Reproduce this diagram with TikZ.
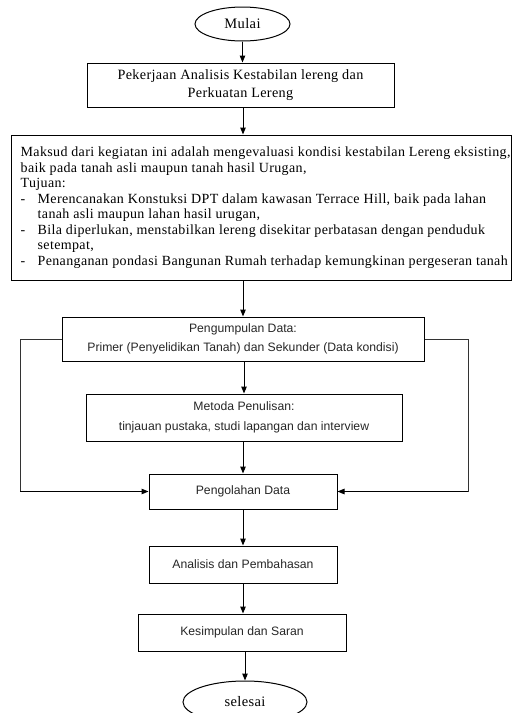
\documentclass[tikz,border=0pt]{standalone}
\usepackage{fontspec}
\setmainfont[LetterSpace=2.5]{Liberation Serif}
\newfontfamily\arialf{Liberation Sans}
\usetikzlibrary{arrows.meta,shapes.geometric}
\begin{document}
\begin{tikzpicture}[x=1pt,y=-1pt,
  every node/.style={inner sep=0pt},
  serifbox/.style={draw,line width=1pt,rectangle,font=\fontsize{14.2}{18}\selectfont,align=center},
  sansbox/.style={draw,line width=1pt,rectangle,font=\arialf\fontsize{12.2}{19.5}\selectfont,align=center,text=black!85},
  term/.style={draw,line width=1pt,ellipse,font=\fontsize{14.5}{16}\selectfont},
  arr/.style={line width=1pt,-{Triangle[length=7pt,width=5.5pt]}},
  lnk/.style={line width=1pt,black!80}]
\useasboundingbox (0,0) rectangle (512,713);
\coordinate (ax) at (243,0);
\node[term,minimum width=95,minimum height=34] (mulai) at (242.5,24) {Mulai};
\node[serifbox,minimum width=307,minimum height=44] (b1) at (240.5,85)
  {Pekerjaan Analisis Kestabilan lereng dan\\Perkuatan Lereng};
\node[draw,line width=1pt,minimum width=500,minimum height=145] (b2) at (261,207.5) {};
\node[anchor=west,align=left,font=\fontsize{14}{15.5}\selectfont] (t2) at ([xshift=10pt]b2.west)
  {Maksud dari kegiatan ini adalah mengevaluasi kondisi kestabilan Lereng eksisting,\\
   baik pada tanah asli maupun tanah hasil Urugan,\\
   Tujuan:\\
   \makebox[17pt][l]{-}Merencanakan Konstuksi DPT dalam kawasan Terrace Hill, baik pada lahan\\
   \hspace*{17pt}tanah asli maupun lahan hasil urugan,\\
   \makebox[17pt][l]{-}Bila diperlukan, menstabilkan lereng disekitar perbatasan dengan penduduk\\
   \hspace*{17pt}setempat,\\
   \makebox[17pt][l]{-}Penanganan pondasi Bangunan Rumah terhadap kemungkinan pergeseran tanah};
\node[sansbox,minimum width=362,minimum height=44] (b3) at (243,339)
  {Pengumpulan Data:\\Primer (Penyelidikan Tanah) dan Sekunder (Data kondisi)};
\node[sansbox,minimum width=316,minimum height=47] (b4) at (244,417.5)
  {Metoda Penulisan:\\tinjauan pustaka, studi lapangan dan interview};
\node[sansbox,minimum width=188,minimum height=35] (b5) at (243,491.5) {Pengolahan Data};
\node[sansbox,minimum width=188,minimum height=37] (b6) at (243,564.5) {Analisis dan Pembahasan};
\node[sansbox,minimum width=208,minimum height=37] (b7) at (242,632.5) {Kesimpulan dan Saran};
\node[term,minimum width=124,minimum height=42] (sel) at (245,702) {selesai};
\coordinate (lx) at (20,0);
\coordinate (rx) at (468,0);
\draw[arr] (mulai.south) -- (mulai.south |- b1.north);
\draw[arr] (ax |- b1.south) -- (ax |- b2.north);
\draw[arr] (ax |- b2.south) -- (ax |- b3.north);
\draw[arr] (b3.south -| b4.north) -- (b4.north);
\draw[arr] (b4.south -| b5.north) -- (b5.north);
\draw[arr] (b5.south) -- (b6.north);
\draw[arr] (b6.south) -- (b6.south |- b7.north);
\draw[arr] (b7.south -| sel.north) -- (sel.north);
\draw[lnk] (b3.west) -- (lx |- b3.west) -- (lx |- b5.west);
\draw[arr] (lx |- b5.west) -- (b5.west);
\draw[lnk] (b3.east) -- (rx |- b3.east) -- (rx |- b5.east);
\draw[arr] (rx |- b5.east) -- (b5.east);
\end{tikzpicture}
\end{document}
